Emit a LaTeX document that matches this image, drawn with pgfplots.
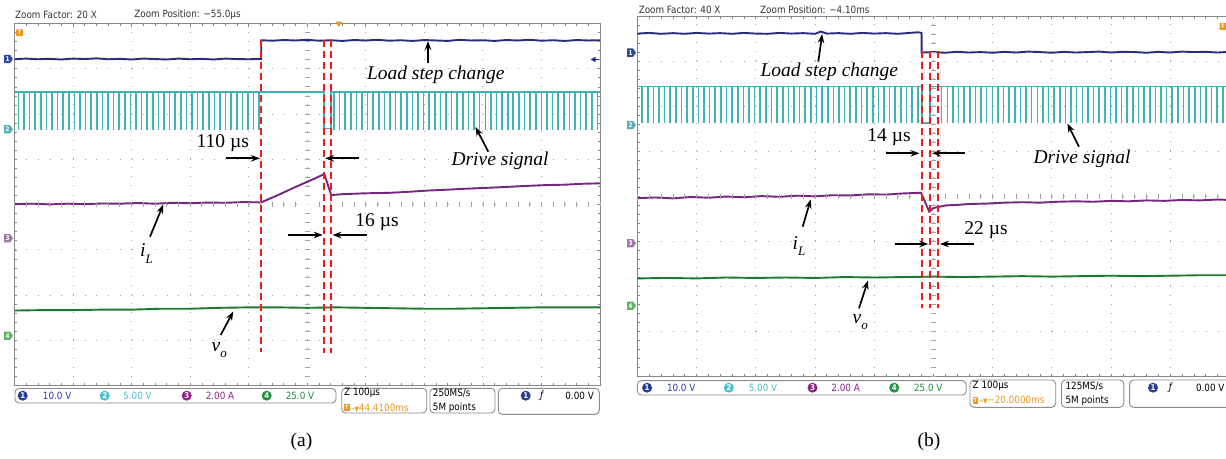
\documentclass[border=0pt]{standalone}
\usepackage{fontspec}
\setmainfont{Liberation Serif}
\newfontfamily\scopefont[FakeStretch=0.88]{DejaVu Sans}
\usepackage{pgfplots}
\pgfplotsset{compat=1.18}
\usetikzlibrary{arrows.meta}
\definecolor{chA}{RGB}{40,46,125}
\definecolor{chB}{RGB}{66,178,182}
\definecolor{chC}{RGB}{118,38,128}
\definecolor{chD}{RGB}{28,122,48}
\definecolor{redd}{RGB}{238,28,28}
\definecolor{gridg}{RGB}{165,165,165}
\definecolor{bord}{RGB}{135,135,135}
\definecolor{orng}{RGB}{238,150,30}
\definecolor{lA}{RGB}{40,62,145}
\definecolor{lB}{RGB}{80,190,205}
\definecolor{lC}{RGB}{140,35,130}
\definecolor{lD}{RGB}{35,145,65}
\definecolor{tagC}{RGB}{160,120,165}
\definecolor{tagD}{RGB}{95,180,95}
\definecolor{tagB}{RGB}{90,175,182}
\definecolor{tagA}{RGB}{50,72,150}
\newcommand\ann{\fontsize{19.5}{21}\selectfont}
\newcommand\sfnt{\scopefont\fontsize{10}{11}\selectfont}
\pgfplotsset{scopegrid/.style={scale only axis, xmin=0,xmax=10,ymin=0,ymax=8,
  xtick={0,...,10}, ytick={0,...,8}, minor x tick num=4, minor y tick num=4,
  xticklabels={}, yticklabels={}, tick align=inside, major tick length=3pt, minor tick length=2.5pt,
  tick style={bord, line width=0.7pt}, grid=major,
  axis line style={bord, line width=0.9pt}},
  centerx/.style={scale only axis, xmin=-5,xmax=5,ymin=-4,ymax=4,
  axis x line=middle, axis y line=middle, axis line style={-, draw=none},
  xtick={-5,-4.8,...,5.05}, ytick={-4,-3.8,...,4.05}, xticklabels={}, yticklabels={},
  tick align=center, major tick length=5.5pt, tick style={gridg, line width=0.8pt}},
  trace/.style={line width=1.9pt, mark=none},
  redmark/.style={draw=redd, line width=1.8pt, dash pattern=on 7pt off 4pt, mark=none, unbounded coords=jump}}
\tikzset{ar/.style={-{Stealth[length=9pt,width=6.5pt]}, line width=1.7pt, draw=black}}
\newcommand\chtag[4]{%
  \fill[#3] (#1-9,#2-4.2) -- (#1-3,#2-4.2) -- (#1,#2) -- (#1-3,#2+4.2) -- (#1-9,#2+4.2) -- cycle;
  \node[font=\scopefont\fontsize{6.5}{6.5}\selectfont\bfseries, text=white, inner sep=0] at (#1-5.3,#2) {#4};}
\newcommand\lcirc[4]{%
  \node[circle, fill=#3, inner sep=0, minimum size=10pt, text=white, font=\scopefont\fontsize{8}{8}\selectfont\bfseries] at (#1,#2) {#4};}
\begin{document}
\begin{tikzpicture}
\fill[white] (0,0) rectangle (1226pt,458pt);
% ---------------- panel (a) ----------------
\begin{axis}[scopegrid, at={(14.5pt,72.3pt)}, anchor=south west, width=585.5pt, height=362.2pt,
  x grid style={gridg, line width=1pt, dash pattern=on 1pt off 8.055pt},
  y grid style={gridg, line width=1pt, dash pattern=on 1pt off 10.71pt}]
\addplot[trace, draw=chA] coordinates {(0,7.21)(0.2,7.225)(0.4,7.21)(0.6,7.22)(0.8,7.205)(1.0,7.225)(1.2,7.215)(1.4,7.23)(1.6,7.21)(1.8,7.22)(2.0,7.205)(2.2,7.225)(2.4,7.215)(2.6,7.205)(2.8,7.225)(3.0,7.21)(3.2,7.22)(3.4,7.205)(3.6,7.225)(3.8,7.215)(4.0,7.21)(4.215,7.22)(4.215,7.63)(4.4,7.62)(4.6,7.635)(4.8,7.625)(5.0,7.64)(5.2,7.62)(5.4,7.63)(5.6,7.615)(5.8,7.635)(6.0,7.625)(6.2,7.64)(6.4,7.62)(6.6,7.63)(6.8,7.615)(7.0,7.635)(7.2,7.625)(7.4,7.615)(7.6,7.64)(7.8,7.625)(8.0,7.63)(8.2,7.615)(8.4,7.635)(8.6,7.625)(8.8,7.64)(9.0,7.62)(9.2,7.63)(9.4,7.615)(9.6,7.635)(9.8,7.625)(10,7.63)};
\addplot[trace, draw=chB, line width=1.8pt] coordinates {(0,6.493)(5.291,6.493)(5.291,5.68)(5.41,5.68)(5.41,6.493)(10,6.493)};
\addplot[trace, draw=chC] coordinates {(0,4.01)(0.3,4.02)(0.6,4.005)(0.9,4.02)(1.2,4.01)(1.5,4.025)(1.8,4.02)(2.1,4.035)(2.4,4.02)(2.7,4.04)(3.0,4.03)(3.3,4.045)(3.6,4.04)(3.9,4.055)(4.215,4.05)(4.5,4.21)(4.8,4.39)(5.1,4.56)(5.291,4.675)(5.41,4.21)(5.6,4.23)(5.8,4.24)(6.0,4.25)(6.4,4.26)(6.7,4.28)(7.06,4.31)(7.4,4.33)(7.7,4.35)(8.06,4.37)(8.4,4.39)(8.7,4.41)(9.06,4.43)(9.4,4.44)(9.7,4.46)(10,4.47)};
\addplot[trace, draw=chD] coordinates {(0,1.66)(0.5,1.67)(1.0,1.67)(1.5,1.68)(2.0,1.68)(2.5,1.70)(3.0,1.70)(3.5,1.72)(4.0,1.73)(4.5,1.73)(5.0,1.72)(5.5,1.73)(6.0,1.72)(6.5,1.71)(7.0,1.70)(7.5,1.70)(8.0,1.71)(8.5,1.72)(9.0,1.73)(9.5,1.73)(10,1.73)};
\end{axis}
% drive-signal pulses of (a): depth measured downwards from the high level
\begin{axis}[scale only axis, hide axis, at={(14.5pt,72.3pt)}, anchor=south west, width=585.5pt, height=362.2pt,
  xmin=0, xmax=10, ymin=-6.493, ymax=1.507]
\addplot[ycomb, draw=chB, line width=1.6pt, mark=none] coordinates {(0.065,-0.846)(0.161,-0.846)(0.256,-0.846)(0.352,-0.846)(0.448,-0.846)(0.544,-0.846)(0.639,-0.846)(0.735,-0.846)(0.831,-0.846)(0.926,-0.846)(1.022,-0.846)(1.118,-0.846)(1.213,-0.846)(1.309,-0.846)(1.405,-0.846)(1.501,-0.846)(1.596,-0.846)(1.692,-0.846)(1.788,-0.846)(1.883,-0.846)(1.979,-0.846)(2.075,-0.846)(2.170,-0.846)(2.266,-0.846)(2.362,-0.846)(2.458,-0.846)(2.553,-0.846)(2.649,-0.846)(2.745,-0.846)(2.840,-0.846)(2.936,-0.846)(3.032,-0.846)(3.127,-0.846)(3.223,-0.846)(3.319,-0.846)(3.415,-0.846)(3.510,-0.846)(3.606,-0.846)(3.702,-0.846)(3.797,-0.846)(3.893,-0.846)(3.989,-0.846)(4.084,-0.846)(4.180,-0.846)
(5.457,-0.846)(5.553,-0.846)(5.648,-0.846)(5.744,-0.846)(5.840,-0.846)(5.936,-0.846)(6.031,-0.846)(6.127,-0.846)(6.223,-0.846)(6.318,-0.846)(6.414,-0.846)(6.510,-0.846)(6.605,-0.846)(6.701,-0.846)(6.797,-0.846)(6.893,-0.846)(6.988,-0.846)(7.084,-0.846)(7.180,-0.846)(7.275,-0.846)(7.371,-0.846)(7.467,-0.846)(7.562,-0.846)(7.658,-0.846)(7.754,-0.846)(7.850,-0.846)(7.945,-0.846)(8.041,-0.846)(8.137,-0.846)(8.232,-0.846)(8.328,-0.846)(8.424,-0.846)(8.519,-0.846)(8.615,-0.846)(8.711,-0.846)(8.807,-0.846)(8.902,-0.846)(8.998,-0.846)(9.094,-0.846)(9.189,-0.846)(9.285,-0.846)(9.381,-0.846)(9.476,-0.846)(9.572,-0.846)(9.668,-0.846)(9.764,-0.846)(9.859,-0.846)(9.955,-0.846)};
\end{axis}
\begin{axis}[centerx, at={(14.5pt,72.3pt)}, anchor=south west, width=585.5pt, height=362.2pt]
\end{axis}
% red time markers of (a)
\begin{axis}[scale only axis, hide axis, at={(14.5pt,72.3pt)}, anchor=south west, width=585.5pt, height=362.2pt,
  xmin=0, xmax=10, ymin=0, ymax=8]
\addplot[redmark] coordinates {(5.291,7.635)(5.291,0.72)(5.291,nan)(5.41,7.635)(5.41,0.72)(5.41,nan)(4.215,7.635)(4.215,0.744)};
\end{axis}
% ---------------- panel (b) ----------------
\begin{axis}[scopegrid, at={(637.4pt,81.3pt)}, anchor=south west, width=592pt, height=360.7pt,
  x grid style={gridg, line width=1pt, dash pattern=on 1pt off 8.02pt},
  y grid style={gridg, line width=1pt, dash pattern=on 1pt off 10.84pt}]
\addplot[trace, draw=chA] coordinates {(0,7.61)(0.2,7.625)(0.4,7.605)(0.6,7.62)(0.8,7.605)(1.0,7.625)(1.2,7.61)(1.4,7.62)(1.6,7.605)(1.8,7.625)(2.0,7.61)(2.2,7.605)(2.4,7.625)(2.6,7.61)(2.8,7.62)(3.0,7.605)(3.1,7.655)(3.2,7.61)(3.4,7.62)(3.6,7.605)(3.8,7.625)(4.0,7.61)(4.2,7.62)(4.4,7.605)(4.6,7.625)(4.75,7.64)(4.802,7.62)(4.802,7.19)(5.0,7.20)(5.2,7.185)(5.4,7.205)(5.6,7.19)(5.8,7.20)(6.0,7.185)(6.2,7.205)(6.4,7.19)(6.6,7.21)(6.8,7.20)(7.0,7.185)(7.2,7.205)(7.4,7.19)(7.6,7.20)(7.8,7.21)(8.0,7.19)(8.2,7.205)(8.4,7.20)(8.6,7.185)(8.8,7.205)(9.0,7.19)(9.2,7.21)(9.4,7.20)(9.6,7.205)(9.8,7.19)(10,7.205)};
\addplot[trace, draw=chB, line width=1.8pt] coordinates {(0,6.436)(4.802,6.436)(4.802,5.627)(4.943,5.627)(4.943,6.436)(10,6.436)};
\addplot[trace, draw=chC] coordinates {(0,3.96)(0.3,3.975)(0.6,3.955)(0.9,3.985)(1.2,3.97)(1.5,3.995)(1.8,3.98)(2.1,4.005)(2.4,3.99)(2.7,4.015)(3.0,4.00)(3.3,4.025)(3.6,4.02)(3.9,4.045)(4.2,4.04)(4.5,4.065)(4.79,4.08)(4.85,3.90)(4.93,3.66)(5.0,3.74)(5.1,3.77)(5.22,3.80)(5.4,3.81)(5.6,3.83)(5.9,3.84)(6.2,3.86)(6.5,3.87)(6.8,3.86)(7.1,3.88)(7.4,3.89)(7.7,3.88)(8.0,3.90)(8.3,3.89)(8.6,3.91)(8.9,3.90)(9.2,3.92)(9.5,3.91)(9.8,3.93)(10,3.92)};
\addplot[trace, draw=chD] coordinates {(0,2.18)(0.5,2.19)(1.0,2.18)(1.5,2.20)(2.0,2.19)(2.5,2.20)(3.0,2.19)(3.5,2.21)(4.0,2.20)(4.5,2.21)(5.0,2.22)(5.5,2.21)(6.0,2.22)(6.5,2.23)(7.0,2.22)(7.5,2.23)(8.0,2.24)(8.5,2.23)(9.0,2.24)(9.5,2.25)(10,2.25)};
\end{axis}
\begin{axis}[scale only axis, hide axis, at={(637.4pt,81.3pt)}, anchor=south west, width=592pt, height=360.7pt,
  xmin=0, xmax=10, ymin=-6.436, ymax=1.564]
\addplot[ycomb, draw=chB, line width=1.6pt, mark=none] coordinates {(0.080,-0.809)(0.175,-0.809)(0.270,-0.809)(0.365,-0.809)(0.460,-0.809)(0.555,-0.809)(0.650,-0.809)(0.745,-0.809)(0.840,-0.809)(0.935,-0.809)(1.030,-0.809)(1.125,-0.809)(1.220,-0.809)(1.315,-0.809)(1.410,-0.809)(1.505,-0.809)(1.600,-0.809)(1.695,-0.809)(1.790,-0.809)(1.885,-0.809)(1.980,-0.809)(2.075,-0.809)(2.170,-0.809)(2.265,-0.809)(2.360,-0.809)(2.455,-0.809)(2.550,-0.809)(2.645,-0.809)(2.740,-0.809)(2.835,-0.809)(2.930,-0.809)(3.025,-0.809)(3.120,-0.809)(3.215,-0.809)(3.310,-0.809)(3.405,-0.809)(3.500,-0.809)(3.595,-0.809)(3.690,-0.809)(3.785,-0.809)(3.880,-0.809)(3.975,-0.809)(4.070,-0.809)(4.165,-0.809)(4.260,-0.809)(4.355,-0.809)(4.450,-0.809)(4.545,-0.809)(4.640,-0.809)(4.735,-0.809)
(5.140,-0.809)(5.235,-0.809)(5.330,-0.809)(5.425,-0.809)(5.520,-0.809)(5.615,-0.809)(5.710,-0.809)(5.805,-0.809)(5.900,-0.809)(5.995,-0.809)(6.090,-0.809)(6.185,-0.809)(6.280,-0.809)(6.375,-0.809)(6.470,-0.809)(6.565,-0.809)(6.660,-0.809)(6.755,-0.809)(6.850,-0.809)(6.945,-0.809)(7.040,-0.809)(7.135,-0.809)(7.230,-0.809)(7.325,-0.809)(7.420,-0.809)(7.515,-0.809)(7.610,-0.809)(7.705,-0.809)(7.800,-0.809)(7.895,-0.809)(7.990,-0.809)(8.085,-0.809)(8.180,-0.809)(8.275,-0.809)(8.370,-0.809)(8.465,-0.809)(8.560,-0.809)(8.655,-0.809)(8.750,-0.809)(8.845,-0.809)(8.940,-0.809)(9.035,-0.809)(9.130,-0.809)(9.225,-0.809)(9.320,-0.809)(9.415,-0.809)(9.510,-0.809)(9.605,-0.809)(9.700,-0.809)(9.795,-0.809)(9.890,-0.809)(9.985,-0.809)};
\end{axis}
\begin{axis}[centerx, at={(637.4pt,81.3pt)}, anchor=south west, width=592pt, height=360.7pt]
\end{axis}
\begin{axis}[scale only axis, hide axis, at={(637.4pt,81.3pt)}, anchor=south west, width=592pt, height=360.7pt,
  xmin=0, xmax=10, ymin=0, ymax=8]
\addplot[redmark] coordinates {(4.943,7.223)(4.943,1.517)(4.943,nan)(5.083,7.223)(5.083,1.517)(5.083,nan)(4.802,7.223)(4.802,1.517)};
\end{axis}
% ---------------- annotations (pixel coordinates, y downwards) ----------------
\begin{scope}[shift={(0pt,458pt)}, x=1pt, y=-1pt]
\node[anchor=west, inner sep=0, font=\sfnt, text=black!80] at (15,15) {Zoom Factor: 20 X};
\node[anchor=west, inner sep=0, font=\sfnt, text=black!80] at (134.2,15) {Zoom Position: −55.0µs};
\node[anchor=west, inner sep=0, font=\sfnt, text=black!80] at (638.6,10) {Zoom Factor: 40 X};
\node[anchor=west, inner sep=0, font=\sfnt, text=black!80] at (760,10) {Zoom Position: −4.10ms};
\chtag{13}{59}{tagA}{1}
\chtag{13}{129.3}{tagB}{2}
\chtag{13}{238.3}{tagC}{3}
\chtag{13}{335.8}{tagD}{4}
\chtag{636}{52.7}{tagA}{1}
\chtag{636}{125}{tagB}{2}
\chtag{636}{243.3}{tagC}{3}
\chtag{636}{305.8}{tagD}{4}
\node[fill=orng, rounded corners=1pt, minimum width=7pt, minimum height=7pt, inner sep=0, text=white, font=\scopefont\fontsize{6}{6}\selectfont\bfseries] at (19.5,32.7) {T};
\fill[orng] (335.4,21.7) -- (342.4,21.7) -- (338.9,27) -- cycle;
\node[fill=orng, rounded corners=1pt, minimum width=7pt, minimum height=7pt, inner sep=0, text=white, font=\scopefont\fontsize{6}{6}\selectfont\bfseries] at (1223,26.3) {T};
\fill[chA] (590.7,59.5) -- (595.5,56.8) -- (595.5,62.2) -- cycle;
\draw[chA, line width=1pt] (595,59.5) -- (598.5,59.5);
% annotations (a)
\node[font=\ann\itshape] at (435.8,75) {Load step change};
\draw[ar] (428,63) -- (428,41);
\node[font=\ann\itshape] at (500,161) {Drive signal};
\draw[ar] (488.3,151.7) -- (475.5,127);
\node[font=\ann] at (222.8,143.5) {110 µs};
\draw[ar] (225.7,158.3) -- (260,158.3);
\draw[ar] (358.8,158.3) -- (325,158.3);
\node[font=\ann] at (377,222.5) {16 µs};
\draw[ar] (287.7,235) -- (322.7,235);
\draw[ar] (366.7,235) -- (332.5,235);
\node[anchor=base west, inner sep=0, font=\ann\itshape] at (140,257) {i\raisebox{-6.5pt}{\fontsize{13}{13}\selectfont L}};
\draw[ar] (150,236.7) -- (163.3,204.5);
\node[anchor=base west, inner sep=0, font=\ann\itshape] at (211.5,351.7) {v\raisebox{-6pt}{\fontsize{13}{13}\selectfont o}};
\draw[ar] (220.7,335) -- (233.3,311.5);
% annotations (b)
\node[font=\ann\itshape] at (829.3,72) {Load step change};
\draw[ar] (818.3,61.7) -- (822.2,34);
\node[font=\ann\itshape] at (1082,159) {Drive signal};
\draw[ar] (1079,146.7) -- (1067.4,123.5);
\node[font=\ann] at (889,137.5) {14 µs};
\draw[ar] (886,153.3) -- (919.5,153.3);
\draw[ar] (965,153.3) -- (932,153.3);
\node[font=\ann] at (986,230) {22 µs};
\draw[ar] (895,244) -- (928.3,244);
\draw[ar] (974,244) -- (940,244);
\node[anchor=base west, inner sep=0, font=\ann\itshape] at (792.5,249.3) {i\raisebox{-6.5pt}{\fontsize{13}{13}\selectfont L}};
\draw[ar] (802.7,226.7) -- (810.7,199.5);
\node[anchor=base west, inner sep=0, font=\ann\itshape] at (852.5,323.3) {v\raisebox{-6pt}{\fontsize{13}{13}\selectfont o}};
\draw[ar] (859,308.3) -- (868,280.5);
% legend bars (a)
\draw[black!45, line width=0.9pt, rounded corners=4pt, fill=white] (15,388.5) rectangle (336,403);
\lcirc{22.7}{395.7}{lA}{1}
\node[font=\sfnt, text=lA] at (57.2,395.7) {10.0 V};
\lcirc{104.7}{395.7}{lB}{2}
\node[font=\sfnt, text=lB] at (137.5,395.7) {5.00 V};
\lcirc{186.7}{395.7}{lC}{3}
\node[font=\sfnt, text=lC] at (220,395.7) {2.00 A};
\lcirc{266.7}{395.7}{lD}{4}
\node[font=\sfnt, text=lD] at (300,395.7) {25.0 V};
\draw[black!45, line width=0.9pt, rounded corners=4pt, fill=white] (341.7,388.3) rectangle (426.7,413);
\node[anchor=west, inner sep=0, font=\sfnt] at (344,393) {Z 100µs};
\node[fill=orng, inner sep=0, minimum width=5.5pt, minimum height=7pt, text=white, font=\scopefont\fontsize{5.5}{5.5}\selectfont\bfseries] at (346.8,407.7) {T};
\node[anchor=west, inner sep=0, font=\sfnt, text=orng] at (349.6,407.7) {{\fontsize{6.5}{6.5}\selectfont →▼}44.4100ms};
\draw[black!45, line width=0.9pt, rounded corners=4pt, fill=white] (430,388.3) rectangle (495,413);
\node[anchor=west, inner sep=0, font=\sfnt] at (432.7,393) {250MS/s};
\node[anchor=west, inner sep=0, font=\sfnt] at (432.7,407.7) {5M points};
\draw[black!45, line width=0.9pt, rounded corners=4pt, fill=white] (498.3,388.3) rectangle (599.3,414.3);
\lcirc{525.7}{395.7}{lA}{1}
\node[font=\sfnt\itshape] at (541.7,395.7) {ƒ};
\node[anchor=east, inner sep=0, font=\sfnt] at (594,395.7) {0.00 V};
% legend bars (b)
\draw[black!45, line width=0.9pt, rounded corners=4pt, fill=white] (637.4,380.7) rectangle (966.2,395);
\lcirc{647.1}{387.7}{lA}{1}
\node[font=\sfnt, text=lA] at (681.2,387.7) {10.0 V};
\lcirc{728.8}{387.7}{lB}{2}
\node[font=\sfnt, text=lB] at (763,387.7) {5.00 V};
\lcirc{812.5}{387.7}{lC}{3}
\node[font=\sfnt, text=lC] at (845.6,387.7) {2.00 A};
\lcirc{894.2}{387.7}{lD}{4}
\node[font=\sfnt, text=lD] at (928.3,387.7) {25.0 V};
\draw[black!45, line width=0.9pt, rounded corners=4pt, fill=white] (970,380) rectangle (1055.7,407.3);
\node[anchor=west, inner sep=0, font=\sfnt] at (972.5,386) {Z 100µs};
\node[fill=orng, inner sep=0, minimum width=5.5pt, minimum height=7pt, text=white, font=\scopefont\fontsize{5.5}{5.5}\selectfont\bfseries] at (975.3,400.5) {T};
\node[anchor=west, inner sep=0, font=\sfnt, text=orng] at (978.1,400.5) {{\fontsize{6.5}{6.5}\selectfont →▼}−20.0000ms};
\draw[black!45, line width=0.9pt, rounded corners=4pt, fill=white] (1061.5,380) rectangle (1123.8,407.3);
\node[anchor=west, inner sep=0, font=\sfnt] at (1065.4,386) {125MS/s};
\node[anchor=west, inner sep=0, font=\sfnt] at (1065.4,400.5) {5M points};
\draw[black!45, line width=0.9pt, rounded corners=4pt, fill=white] (1129.6,380) rectangle (1250,407.3);
\lcirc{1153}{387.7}{lA}{1}
\node[font=\sfnt\itshape] at (1170.5,387.7) {ƒ};
\node[anchor=west, inner sep=0, font=\sfnt] at (1195.8,387.7) {0.00 V};
\node[font=\ann] at (301.5,441.5) {(a)};
\node[font=\ann] at (929,441.5) {(b)};
\end{scope}
\pgfresetboundingbox
\useasboundingbox (0,0) rectangle (1226pt,458pt);
\end{tikzpicture}
\end{document}
